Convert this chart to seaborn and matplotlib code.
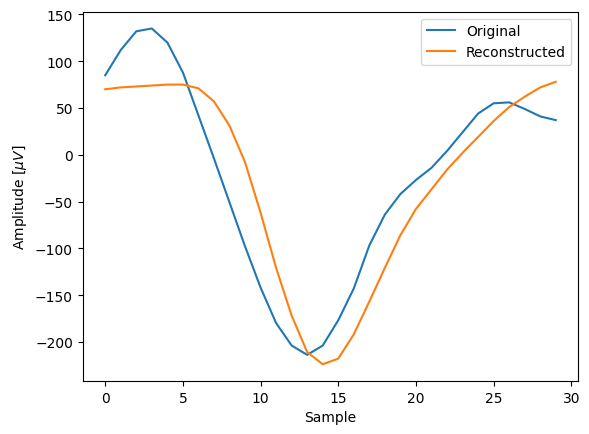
import matplotlib
matplotlib.use("Agg")
import matplotlib.pyplot as plt
import seaborn as sns
import pandas as pd
import numpy as np

# Values
sample = np.arange(30)
original = [85, 112, 132, 135, 120, 88, 42, -4, -51, -98,
            -142, -180, -204, -214, -204, -177, -143, -97, -64, -42,
            -27, -14, 4, 24, 44, 55, 56, 49, 41, 37]
reconstructed = [70, 72, 73, 74, 75, 75, 71, 57, 31, -8,
                 -62, -121, -172, -211, -224, -218, -192, -157, -121, -86,
                 -58, -37, -16, 2, 19, 36, 51, 62, 72, 78]

df = pd.DataFrame({"Sample": sample, "Original": original, "Reconstructed": reconstructed})
df_long = df.melt(id_vars=["Sample"], value_vars=["Original", "Reconstructed"],
                  var_name="Signal", value_name="Amplitude")

fig = plt.figure(figsize=(5.89, 4.35), dpi=100)
ax = fig.add_axes([0.1404, 0.1218, 0.9818 - 0.1404, 0.9708 - 0.1218])
sns.lineplot(data=df_long, x="Sample", y="Amplitude", hue="Signal",
             palette=["#1f77b4", "#ff7f0e"], ax=ax)
ax.set_xlabel("Sample")
ax.set_ylabel(r"Amplitude [$\mu V$]")
ax.legend(loc="upper right")
fig.savefig("out.png", dpi=100)
